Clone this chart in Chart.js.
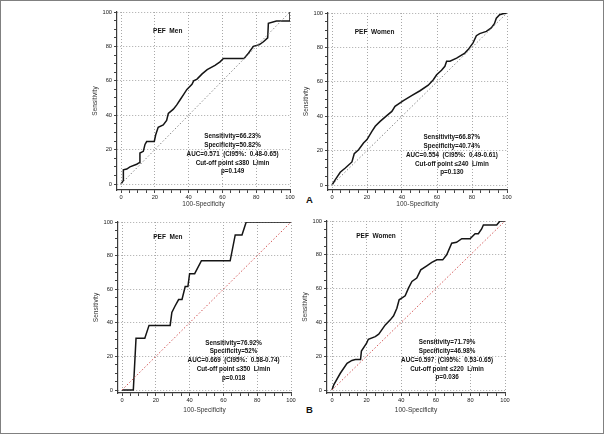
<!DOCTYPE html>
<html>
<head>
<meta charset="utf-8">
<script src="https://cdn.jsdelivr.net/npm/chart.js@4.4.0/dist/chart.umd.min.js"></script>
<style>
  html, body { margin: 0; padding: 0; background: #fff; }
  #frame { position: absolute; left: 0; top: 0; width: 602px; height: 432px; border: 1px solid #808080; }
  canvas { position: absolute; }
  .tag { position: absolute; font: bold 9.5px "Liberation Sans", Arial, sans-serif; color: #111; }
</style>
</head>
<body>
<div id="frame"></div>
<div class="tag" style="left:306px;top:194px;">A</div>
<div class="tag" style="left:306px;top:404px;">B</div>

<script>
// tick labels shared by every panel
const xTicks = [0, 20, 40, 60, 80, 100];
const yTicks = [0, 20, 40, 60, 80, 100];
const minorTicks = [0, 5, 10, 15, 20, 25, 30, 35, 40, 45, 50, 55, 60, 65, 70, 75, 80, 85, 90, 95, 100];
const diagX = [0, 100];
const diagY = [0, 100];

// A - PEF men
const menAx = [0, 1.4, 1.4, 3.4, 5.3, 9.3, 10.8, 11.2, 13.2, 14.2, 15.2, 19.7, 20.5, 22, 25, 27, 28, 31, 33, 35, 37, 39, 42, 43, 45, 48, 51, 55.6, 58.6, 60.6, 72.8, 75.4, 78.3, 81.9, 84.3, 86.8, 87.2, 92, 100, 100];
const menAy = [0, 2, 8.2, 8.7, 10, 11.5, 12.4, 18, 19, 23, 24.7, 24.7, 28.5, 33, 34.4, 37, 41, 43.5, 46, 49, 52, 55, 58, 60, 61, 64, 66.5, 69, 71, 73, 73, 76, 80, 81, 82.7, 85, 93.4, 94.8, 94.8, 100];

// A - PEF women
const womenAx = [0, 1.9, 4.7, 7.6, 11.4, 12.7, 15.2, 18, 20, 22.8, 24.7, 27.5, 31.3, 34.2, 36, 40.8, 45.5, 50.3, 55, 57.9, 59.8, 62.6, 64.5, 65.5, 67.4, 71.2, 75.9, 77.8, 80.6, 82.5, 84.4, 88.2, 91, 92.8, 93.9, 95.8, 97.7, 100];
const womenAy = [0, 3.1, 7.4, 9.9, 13.4, 18.2, 20.5, 24.4, 26.4, 31.2, 34.1, 37, 40.3, 42.8, 45.7, 49, 52, 54.8, 58, 61.2, 64.1, 66.7, 69, 72, 72, 73.8, 76.7, 78.7, 82.6, 86.8, 88, 89.3, 91.3, 93.8, 97, 99, 99.6, 100];

// B - PEF men
const menBx = [0, 6.7, 8.3, 13.5, 16, 28.5, 29.5, 31.4, 33.5, 35.5, 37.4, 39, 40, 43, 47, 64, 67, 71, 73.5, 100];
const menBy = [0, 0, 30.77, 30.77, 38.46, 38.46, 46.15, 50, 53.85, 53.85, 61.54, 61.54, 69.23, 69.23, 76.92, 76.92, 92.31, 92.31, 100, 100];

// B - PEF women
const womenBx = [0, 1, 4.8, 8.7, 11.5, 13.5, 16.5, 17, 20, 21, 25, 27, 30.8, 33.7, 35.6, 37.5, 38.8, 42.3, 44.2, 46.2, 49, 51.3, 54.8, 57.7, 60.6, 64, 66.3, 69.2, 72, 75, 79.8, 82.7, 84.6, 86.5, 87.5, 95.2, 97.1, 100];
const womenBy = [0, 3, 9.9, 15.8, 17.5, 18, 18, 23, 27.7, 30, 31.6, 33, 38.5, 41.5, 43.9, 48.4, 53.4, 55.7, 60.3, 64.2, 66.2, 71.1, 73.5, 75.5, 77, 77, 80, 86.9, 87.4, 89.5, 89.5, 92.5, 92.5, 95.3, 97.6, 97.6, 100, 100];

const statsMenA = ['Sensitivity=66.23%', 'Specificity=50.82%', 'AUC=0.571  (CI95%:  0.48-0.65)', 'Cut-off point \u2264380  L/min', 'p=0.149'];
const statsWomenA = ['Sensitivity=66.87%', 'Specificity=40.74%', 'AUC=0.554  (CI95%:  0.49-0.61)', 'Cut-off point \u2264240  L/min', 'p=0.130'];
const statsMenB = ['Sensitivity=76.92%', 'Specificity=52%', 'AUC=0.669  (CI95%:  0.58-0.74)', 'Cut-off point \u2264350  L/min', 'p=0.018'];
const statsWomenB = ['Sensitivity=71.79%', 'Specificity=46.98%', 'AUC=0.597  (CI95%:  0.53-0.65)', 'Cut-off point \u2264220  L/min', 'p=0.036'];

const FONT = '"Liberation Sans", Arial, sans-serif';

// text drawn inside each plot
const notesPlugin = {
    id: 'notes',
    afterDatasetsDraw(chart) {
        const o = chart.options.plugins.notes;
        const xs = chart.scales.x, ys = chart.scales.y;
        const ctx = chart.ctx;
        ctx.save();
        ctx.fillStyle = '#111';
        ctx.textBaseline = 'middle';
        ctx.font = 'bold 6.5px ' + FONT;
        ctx.textAlign = 'left';
        ctx.fillText(o.title, xs.getPixelForValue(o.titleAt[0]), ys.getPixelForValue(o.titleAt[1]));
        ctx.font = 'bold 6.3px ' + FONT;
        ctx.textAlign = 'center';
        const cx = xs.getPixelForValue(o.statsAt[0]);
        const top = ys.getPixelForValue(o.statsAt[1]);
        o.lines.forEach((t, i) => ctx.fillText(t, cx, top + i * 8.7));
        ctx.restore();
    }
};

function makePanel(id, g, xs, ys, diagColor, title, lines, titleAt, statsAt) {
    const cv = document.getElementById(id);
    const L = g.axisX - 30, T = g.y100 - 8;
    const W = g.x100 + 8 - L, H = g.axisY + 24 - T;
    cv.style.left = L + 'px';
    cv.style.top = T + 'px';
    cv.style.width = W + 'px';
    cv.style.height = H + 'px';
    cv.width = W; cv.height = H;

    const xmin = -(g.x0 - g.axisX) / ((g.x100 - g.x0) / 100);
    const ymin = -(g.axisY - g.y0) / ((g.y0 - g.y100) / 100);

    const axis = (min, labels, titleText, isX) => ({
        type: 'linear',
        min: min,
        max: 100,
        afterBuildTicks: s => { s.ticks = minorTicks.map(v => ({ value: v })); },
        afterFit: s => { if (isX) s.height = 24; else s.width = 30; },
        ticks: {
            autoSkip: false,
            maxRotation: 0,
            padding: isX ? 1 : 2,
            color: '#1a1a1a',
            font: { family: FONT, size: 5.7 },
            callback: v => labels.includes(v) ? String(v) : ''
        },
        grid: {
            color: c => (c.tick && labels.includes(c.tick.value)) ? '#a8a8a8' : 'rgba(0,0,0,0)',
            lineWidth: 1,
            tickColor: '#444',
            tickLength: 3,
            tickBorderDash: []
        },
        border: { display: true, color: '#3a3a3a', width: 1.2, dash: [1, 2] },
        title: {
            display: true,
            text: titleText,
            color: '#333',
            font: { family: FONT, size: 6.5, lineHeight: 1.2 },
            padding: isX ? { top: 0, bottom: 24 - g.titleGap - 3.9 } : { top: 4, bottom: 0 }
        }
    });

    return new Chart(cv, {
        type: 'scatter',
        data: {
            datasets: [
                {
                    data: diagX.map((x, i) => ({ x: x, y: diagY[i] })),
                    showLine: true,
                    borderColor: diagColor,
                    borderWidth: 1,
                    borderDash: [1.5, 2],
                    pointRadius: 0
                },
                {
                    data: xs.map((x, i) => ({ x: x, y: ys[i] })),
                    showLine: true,
                    borderColor: '#151515',
                    borderWidth: 1.5,
                    pointRadius: 0,
                    tension: 0
                }
            ]
        },
        options: {
            responsive: false,
            animation: false,
            layout: { padding: { left: 0, top: 8, right: 8, bottom: 0 } },
            scales: {
                x: axis(xmin, xTicks, '100-Specificity', true),
                y: axis(ymin, yTicks, 'Sensitivity', false)
            },
            plugins: {
                legend: { display: false },
                tooltip: { enabled: false },
                notes: { title: title, lines: lines, titleAt: titleAt, statsAt: statsAt }
            }
        },
        plugins: [notesPlugin]
    });
}

['c1', 'c2', 'c3', 'c4'].forEach(id => {
    const c = document.createElement('canvas');
    c.id = id;
    document.body.appendChild(c);
});

makePanel('c1', { axisX: 117, axisY: 190, x0: 121, x100: 290, y0: 184, y100: 12, titleGap: 14 },
    menAx, menAy, '#8a8a8a', 'PEF  Men', statsMenA, [19, 89], [66, 27.5]);
makePanel('c2', { axisX: 328, axisY: 190, x0: 332, x100: 507, y0: 185, y100: 13, titleGap: 14 },
    womenAx, womenAy, '#8a8a8a', 'PEF  Women', statsWomenA, [13, 89], [68.5, 27.5]);
makePanel('c3', { axisX: 118, axisY: 393, x0: 122, x100: 291, y0: 390, y100: 222, titleGap: 17 },
    menBx, menBy, '#d25555', 'PEF  Men', statsMenB, [18.5, 91], [66, 28]);
makePanel('c4', { axisX: 327, axisY: 393, x0: 332, x100: 505, y0: 390, y100: 221, titleGap: 17 },
    womenBx, womenBy, '#d25555', 'PEF  Women', statsWomenB, [14, 91], [66.5, 28]);
</script>
</body>
</html>
